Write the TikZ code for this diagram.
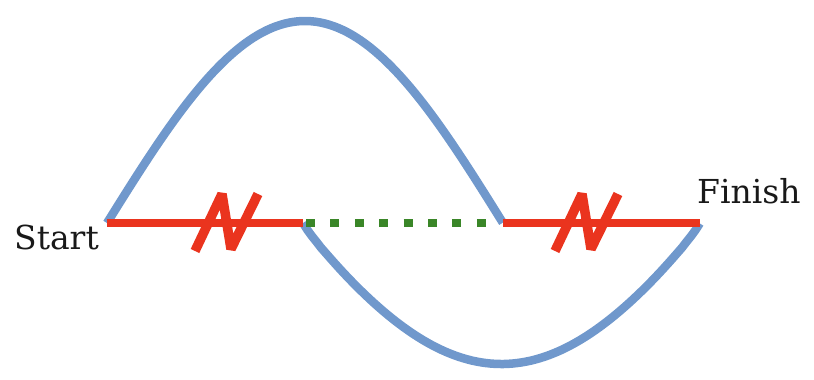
\documentclass[tikz,border=0pt]{standalone}
\usepackage{fontspec}
\setmainfont{DejaVu Serif}
\definecolor{cblue}{RGB}{112,152,204}
\definecolor{cred}{RGB}{234,52,30}
\definecolor{cgreen}{RGB}{58,134,40}
\begin{document}
\begin{tikzpicture}[x=1pt,y=-1pt,
  wave/.style={cblue,line width=8.5pt,line cap=butt},
  redline/.style={cred,line width=8pt},
  breakmark/.style={cred,line width=9.5pt,line join=bevel},
  gap/.style={cgreen,line width=8.5pt,dash pattern=on 9pt off 15.4pt},
  lbl/.style={font=\fontsize{33}{36}\selectfont,text=black!90,inner sep=0pt}]
\useasboundingbox (0,0) rectangle (814,380);
% key points
\coordinate (S) at (107,223);
\coordinate (A) at (303,223);
\coordinate (B) at (503,223);
\coordinate (F) at (700,223);
\coordinate (G1) at (306,223);
\coordinate (G2) at (486,223);
% blue waves
\draw[wave] plot[domain=0:1,samples=90] ({107+396*\x},{223-202*sin(180*\x)});
\draw[wave] plot[domain=0:1,samples=90] ({303+397*\x},{223+141*(sin(180*\x))^0.9});
% red baseline
\draw[redline] (S) -- (A);
\draw[redline] (B) -- (F);
% green dotted gap
\draw[gap] (G1) -- (G2);
% break marks
\draw[breakmark] (195,251) -- (222,194) -- (231,249) -- (258,194);
\draw[breakmark] (555,251) -- (582,194) -- (591,249) -- (618,194);
% labels
\node[lbl,anchor=base west] (start) at (14,249) {Start};
\node[lbl,anchor=base west] (finish) at (697,203) {Finish};
\end{tikzpicture}
\end{document}
